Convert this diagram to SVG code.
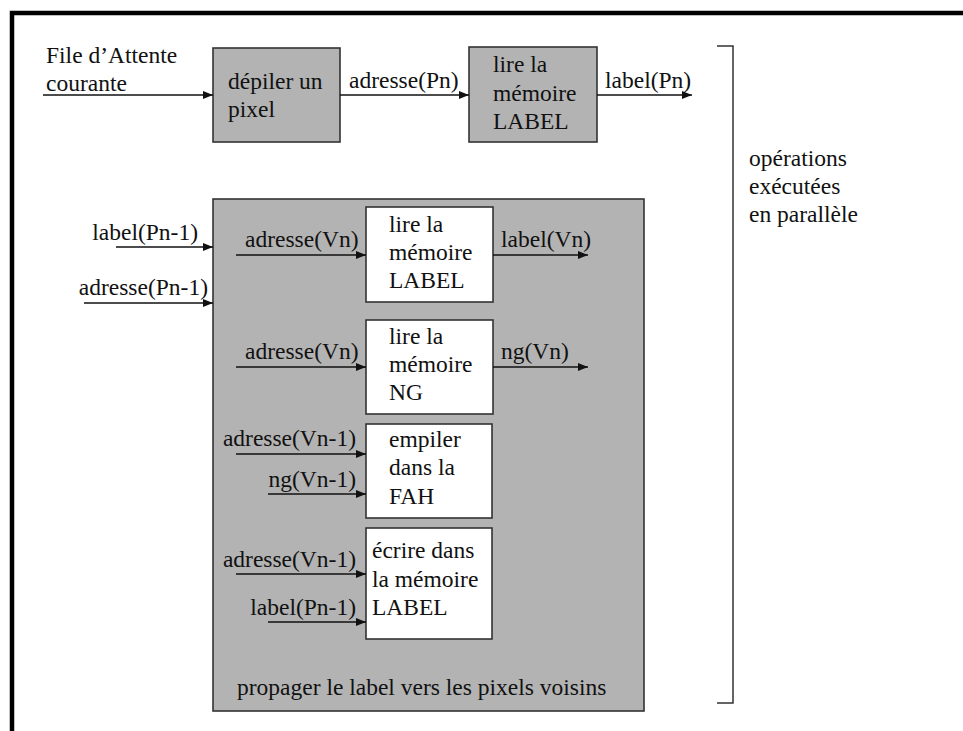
<svg xmlns="http://www.w3.org/2000/svg" width="963" height="731" viewBox="0 0 963 731">
  <style>
    text { font-family: 'Liberation Serif', 'DejaVu Serif', serif; font-size: 23.5px; fill: #111; }
    .box { stroke: #333; stroke-width: 1.6; }
    .grey { fill: #b3b3b3; }
    .white { fill: #fff; }
    .wire { stroke: #111; stroke-width: 1.5; fill: none; marker-end: url(#arrow); }
    .end { text-anchor: end; }
  </style>
  <defs>
    <marker id="arrow" viewBox="0 0 10 8" refX="10" refY="4" markerWidth="10" markerHeight="8" markerUnits="userSpaceOnUse" orient="auto">
      <path d="M0,0 L10,4 L0,8 Z" fill="#111"/>
    </marker>
  </defs>

  <rect width="963" height="731" fill="#fff"/>
  <!-- page frame -->
  <path d="M12,731 V13 H963" stroke="#000" stroke-width="4.5" fill="none"/>

  <!-- pipeline stage 1 -->
  <g id="depiler">
    <rect class="box grey" x="213" y="48" width="127" height="94"/>
    <text x="228" y="89">dépiler un</text>
    <text x="228" y="117">pixel</text>
  </g>
  <g id="lire-label-top">
    <rect class="box grey" x="469" y="47" width="128" height="95"/>
    <text x="493" y="72">lire la</text>
    <text x="493" y="101">mémoire</text>
    <text x="493" y="129">LABEL</text>
  </g>

  <!-- parallel block -->
  <g id="propager">
    <rect class="box grey" x="213" y="199" width="431" height="512"/>
    <text x="237" y="695">propager le label vers les pixels voisins</text>
  </g>
  <g id="lire-label">
    <rect class="box white" x="366" y="207" width="127" height="95"/>
    <text x="389" y="232">lire la</text>
    <text x="389" y="260">mémoire</text>
    <text x="389" y="288">LABEL</text>
  </g>
  <g id="lire-ng">
    <rect class="box white" x="366" y="320" width="127" height="94"/>
    <text x="389" y="344">lire la</text>
    <text x="389" y="372">mémoire</text>
    <text x="389" y="400">NG</text>
  </g>
  <g id="empiler">
    <rect class="box white" x="366" y="424" width="126" height="94"/>
    <text x="389" y="447">empiler</text>
    <text x="389" y="475">dans la</text>
    <text x="389" y="504">FAH</text>
  </g>
  <g id="ecrire">
    <rect class="box white" x="366" y="528" width="126" height="111"/>
    <text x="372" y="558">écrire dans</text>
    <text x="372" y="587">la mémoire</text>
    <text x="372" y="615">LABEL</text>
  </g>

  <!-- bracket -->
  <g id="parallele">
    <path d="M717,46 H733 V703 H717" stroke="#333" stroke-width="1.5" fill="none"/>
    <text x="749" y="166">opérations</text>
    <text x="749" y="194">exécutées</text>
    <text x="749" y="222">en parallèle</text>
  </g>

  <!-- connectors -->
  <g id="connectors">
    <path class="wire" d="M43,95 H213"/>
    <path class="wire" d="M340,95 H469"/>
    <path class="wire" d="M597,95 H692"/>
    <path class="wire" d="M116,247 H213"/>
    <path class="wire" d="M84,303 H213"/>
    <path class="wire" d="M236,255 H366"/>
    <path class="wire" d="M493,255 H588"/>
    <path class="wire" d="M236,367 H366"/>
    <path class="wire" d="M493,367 H588"/>
    <path class="wire" d="M236,454 H366"/>
    <path class="wire" d="M268,494 H366"/>
    <path class="wire" d="M236,574 H366"/>
    <path class="wire" d="M268,622 H366"/>
  </g>

  <!-- connector labels -->
  <g id="labels">
    <text x="46" y="63">File d’Attente</text>
    <text x="46" y="91">courante</text>
    <text x="349" y="88">adresse(Pn)</text>
    <text x="605" y="88">label(Pn)</text>
    <text x="198" y="240" class="end">label(Pn-1)</text>
    <text x="208" y="295" class="end">adresse(Pn-1)</text>
    <text x="245" y="247">adresse(Vn)</text>
    <text x="501" y="247">label(Vn)</text>
    <text x="245" y="359">adresse(Vn)</text>
    <text x="501" y="359">ng(Vn)</text>
    <text x="356" y="446" class="end">adresse(Vn-1)</text>
    <text x="356" y="487" class="end">ng(Vn-1)</text>
    <text x="356" y="567" class="end">adresse(Vn-1)</text>
    <text x="356" y="615" class="end">label(Pn-1)</text>
  </g>
</svg>
